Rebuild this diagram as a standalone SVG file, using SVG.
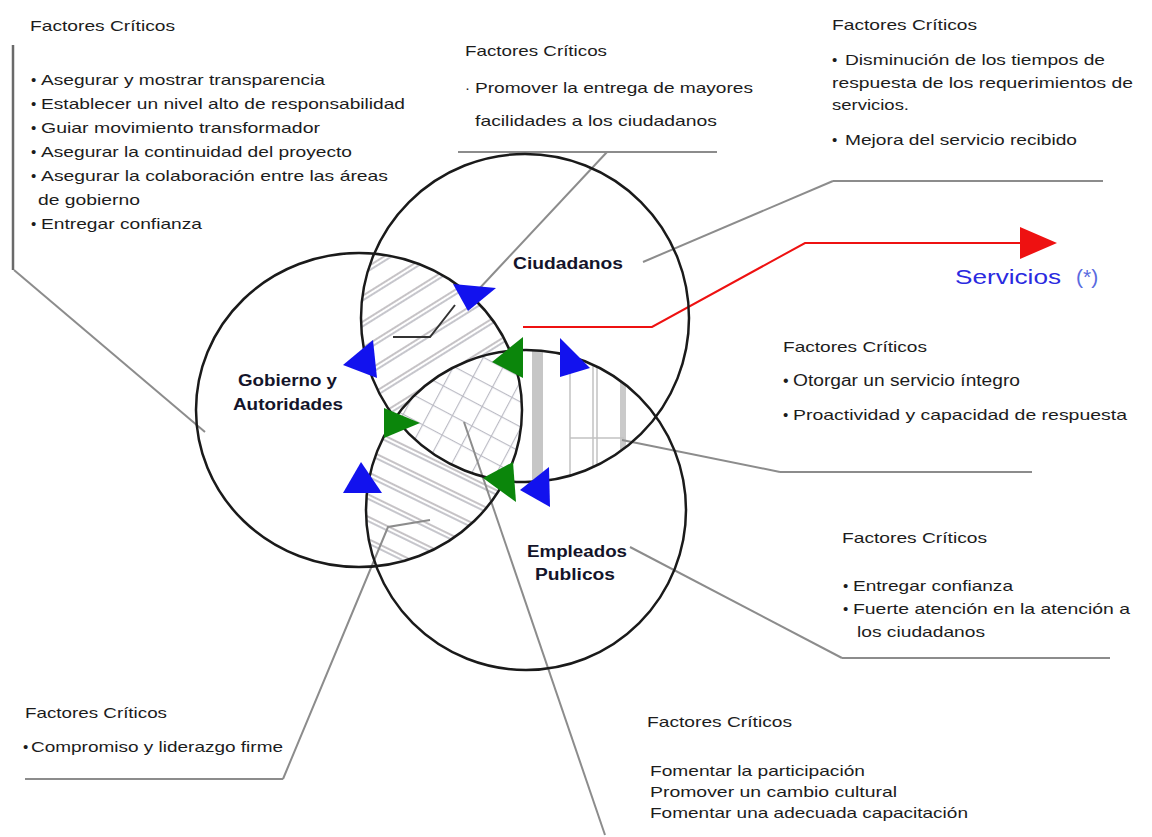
<svg xmlns="http://www.w3.org/2000/svg" width="1152" height="837" viewBox="0 0 1152 837">
<style>
.t{font-family:"Liberation Sans",Arial,sans-serif;font-size:15px;fill:#1c1c1c}
.big{font-size:16px}
.lbl{font-family:"Liberation Sans",Arial,sans-serif;font-weight:bold;font-size:16px;fill:#14142a}
.lead{stroke:#8c8c8c;stroke-width:2;fill:none}
.circ{fill:none;stroke:#1a1a1a;stroke-width:2.5}
.blue{fill:#1212ee}
.green{fill:#0b860b}
.red{stroke:#ee1111;stroke-width:2;fill:none}
</style>
<defs>
  <pattern id="p1" width="22" height="22" patternUnits="userSpaceOnUse" patternTransform="rotate(-32)">
    <line x1="0" y1="3" x2="22" y2="3" stroke="#c0bcc0" stroke-width="1.8"/>
    <line x1="0" y1="7" x2="22" y2="7" stroke="#c0c0c6" stroke-width="1.8"/>
  </pattern>
  <pattern id="p2" width="20" height="20" patternUnits="userSpaceOnUse" patternTransform="rotate(26)">
    <line x1="0" y1="3" x2="20" y2="3" stroke="#c0bcc0" stroke-width="1.8"/>
    <line x1="0" y1="7" x2="20" y2="7" stroke="#c0c0c6" stroke-width="1.8"/>
  </pattern>
  <pattern id="p3" width="22" height="22" patternUnits="userSpaceOnUse" patternTransform="rotate(28)">
    <line x1="0" y1="0.5" x2="22" y2="0.5" stroke="#bbbbc4" stroke-width="1.3"/>
    <line x1="0.5" y1="0" x2="0.5" y2="22" stroke="#bbbbc4" stroke-width="1.3"/>
  </pattern>
  <clipPath id="cC"><circle cx="525" cy="318" r="164"/></clipPath>
  <clipPath id="cG"><ellipse cx="359" cy="410" rx="163" ry="157"/></clipPath>
  <clipPath id="cE"><circle cx="526" cy="510" r="160"/></clipPath>
  <mask id="mNotE" maskUnits="userSpaceOnUse" x="0" y="0" width="1152" height="837">
    <rect width="1152" height="837" fill="#fff"/><circle cx="526" cy="510" r="160" fill="#000"/>
  </mask>
  <mask id="mNotC" maskUnits="userSpaceOnUse" x="0" y="0" width="1152" height="837">
    <rect width="1152" height="837" fill="#fff"/><circle cx="525" cy="318" r="164" fill="#000"/>
  </mask>
  <mask id="mNotG" maskUnits="userSpaceOnUse" x="0" y="0" width="1152" height="837">
    <rect width="1152" height="837" fill="#fff"/><ellipse cx="359" cy="410" rx="163" ry="157" fill="#000"/>
  </mask>
</defs>
<rect width="1152" height="837" fill="#fff"/>

<g id="hatching">
  <g clip-path="url(#cC)"><g clip-path="url(#cG)"><rect x="300" y="200" width="300" height="350" fill="url(#p1)" mask="url(#mNotE)"/></g></g>
  <g clip-path="url(#cG)"><g clip-path="url(#cE)"><rect x="300" y="300" width="300" height="300" fill="url(#p2)" mask="url(#mNotC)"/></g></g>
  <g clip-path="url(#cC)"><g clip-path="url(#cG)"><g clip-path="url(#cE)"><rect x="350" y="300" width="250" height="250" fill="url(#p3)"/></g></g></g>
  <g clip-path="url(#cC)"><g clip-path="url(#cE)"><g mask="url(#mNotG)">
    <rect x="532" y="340" width="11" height="150" fill="#c6c6c6"/>
    <line x1="570" y1="340" x2="570" y2="490" stroke="#c2c2c2" stroke-width="1.5"/>
    <line x1="593" y1="340" x2="593" y2="490" stroke="#c2c2c2" stroke-width="1.5"/>
    <line x1="597" y1="340" x2="597" y2="490" stroke="#c2c2c2" stroke-width="1.5"/>
    <rect x="620" y="340" width="6" height="150" fill="#cacaca"/>
    <line x1="570" y1="438" x2="624" y2="438" stroke="#c2c2c2" stroke-width="1.5"/>
  </g></g></g>
</g>

<g id="connectors">
  <line x1="13" y1="45" x2="13" y2="270" stroke="#6a6a6a" stroke-width="2.5"/>
  <line class="lead" x1="14" y1="270" x2="205" y2="432"/>
  <line class="lead" x1="458" y1="152" x2="717" y2="152"/>
  <line class="lead" x1="607" y1="152" x2="478" y2="290"/>
  <polyline points="455,305 430,337 393,337" fill="none" stroke="#333" stroke-width="2"/>
  <line class="lead" x1="833" y1="181" x2="1103" y2="181"/>
  <line class="lead" x1="833" y1="181" x2="643" y2="262"/>
  <line class="lead" x1="780" y1="472" x2="1032" y2="472"/>
  <line class="lead" x1="622" y1="440" x2="780" y2="472"/>
  <line class="lead" x1="842" y1="658" x2="1110" y2="658"/>
  <line class="lead" x1="630" y1="547" x2="842" y2="658"/>
  <line class="lead" x1="25" y1="779" x2="283" y2="779"/>
  <polyline class="lead" points="283,779 388,527 430,520"/>
  <line class="lead" x1="605" y1="835" x2="464" y2="422"/>
  <polyline class="red" points="523,327 652,327 805,243 1022,243"/>
  <polygon points="1020,227 1057,243 1020,259" fill="#ee1111"/>
</g>

<g id="node-ciudadanos">
  <circle class="circ" cx="525" cy="318" r="164"/>
  <text class="lbl" x="513" y="269" textLength="110" lengthAdjust="spacingAndGlyphs">Ciudadanos</text>
</g>
<g id="node-gobierno">
  <ellipse class="circ" cx="359" cy="410" rx="163" ry="157"/>
  <text class="lbl" x="238" y="386" textLength="99" lengthAdjust="spacingAndGlyphs">Gobierno y</text>
  <text class="lbl" x="233" y="410" textLength="110" lengthAdjust="spacingAndGlyphs">Autoridades</text>
</g>
<g id="node-empleados">
  <circle class="circ" cx="526" cy="510" r="160"/>
  <text class="lbl" x="527" y="557" textLength="100" lengthAdjust="spacingAndGlyphs">Empleados</text>
  <text class="lbl" x="535" y="580" textLength="80" lengthAdjust="spacingAndGlyphs">Publicos</text>
</g>

<g id="arrowheads">
  <polygon class="blue" points="453,284 496,288 468,311"/>
  <polygon class="blue" points="373,340 343,365 377,378"/>
  <polygon class="blue" points="361,462 343,493 382,493"/>
  <polygon class="blue" points="560,338 590,368 560,377"/>
  <polygon class="blue" points="549,467 520,490 550,507"/>
  <polygon class="green" points="523,337 492,362 523,378"/>
  <polygon class="green" points="384,408 420,423 384,438"/>
  <polygon class="green" points="513,462 483,478 516,502"/>
</g>

<g id="servicios">
  <text x="955" y="284" font-family="Liberation Sans, Arial, sans-serif" font-size="21" fill="#2a2ae0" textLength="106" lengthAdjust="spacingAndGlyphs">Servicios</text>
  <text x="1076" y="284" font-family="Liberation Sans, Arial, sans-serif" font-size="21" fill="#5a6ae0">(*)</text>
</g>

<g id="callout-gobierno">
  <text class="t" x="30" y="31" textLength="145" lengthAdjust="spacingAndGlyphs">Factores Críticos</text>
  <text class="t" x="31" y="85">•</text><text class="t" x="41" y="85" textLength="284" lengthAdjust="spacingAndGlyphs">Asegurar y mostrar transparencia</text>
  <text class="t" x="31" y="109">•</text><text class="t" x="41" y="109" textLength="364" lengthAdjust="spacingAndGlyphs">Establecer un nivel alto de responsabilidad</text>
  <text class="t" x="31" y="133">•</text><text class="t" x="41" y="133" textLength="279" lengthAdjust="spacingAndGlyphs">Guiar movimiento transformador</text>
  <text class="t" x="31" y="157">•</text><text class="t" x="41" y="157" textLength="311" lengthAdjust="spacingAndGlyphs">Asegurar la continuidad del proyecto</text>
  <text class="t" x="31" y="181">•</text><text class="t" x="41" y="181" textLength="347" lengthAdjust="spacingAndGlyphs">Asegurar la colaboración entre las áreas</text>
  <text class="t" x="38" y="205" textLength="102" lengthAdjust="spacingAndGlyphs">de gobierno</text>
  <text class="t" x="31" y="229">•</text><text class="t" x="41" y="229" textLength="161" lengthAdjust="spacingAndGlyphs">Entregar confianza</text>
</g>

<g id="callout-ciudadanos-1">
  <text class="t" x="465" y="56" textLength="142" lengthAdjust="spacingAndGlyphs">Factores Críticos</text>
  <text class="t" x="465" y="93">·</text><text class="t" x="475" y="93" textLength="278" lengthAdjust="spacingAndGlyphs">Promover la entrega de mayores</text>
  <text class="t" x="475" y="126" textLength="242" lengthAdjust="spacingAndGlyphs">facilidades a los ciudadanos</text>
</g>

<g id="callout-ciudadanos-2">
  <text class="t" x="832" y="30" textLength="145" lengthAdjust="spacingAndGlyphs">Factores Críticos</text>
  <text class="t" x="832" y="65">•</text><text class="t" x="845" y="65" textLength="260" lengthAdjust="spacingAndGlyphs">Disminución de los tiempos de</text>
  <text class="t" x="832" y="88" textLength="301" lengthAdjust="spacingAndGlyphs">respuesta de los requerimientos de</text>
  <text class="t" x="832" y="110" textLength="77" lengthAdjust="spacingAndGlyphs">servicios.</text>
  <text class="t" x="832" y="145">•</text><text class="t" x="845" y="145" textLength="232" lengthAdjust="spacingAndGlyphs">Mejora del servicio recibido</text>
</g>

<g id="callout-servicio">
  <text class="t" x="783" y="352" textLength="144" lengthAdjust="spacingAndGlyphs">Factores Críticos</text>
  <text class="t big" x="783" y="386">•</text><text class="t big" x="793" y="386" textLength="227" lengthAdjust="spacingAndGlyphs">Otorgar un servicio íntegro</text>
  <text class="t" x="783" y="420">•</text><text class="t" x="793" y="420" textLength="334" lengthAdjust="spacingAndGlyphs">Proactividad y capacidad de respuesta</text>
</g>

<g id="callout-empleados-1">
  <text class="t" x="842" y="543" textLength="145" lengthAdjust="spacingAndGlyphs">Factores Críticos</text>
  <text class="t" x="843" y="591">•</text><text class="t" x="853" y="591" textLength="160" lengthAdjust="spacingAndGlyphs">Entregar confianza</text>
  <text class="t" x="843" y="614">•</text><text class="t" x="853" y="614" textLength="277" lengthAdjust="spacingAndGlyphs">Fuerte atención en la atención a</text>
  <text class="t" x="857" y="637" textLength="128" lengthAdjust="spacingAndGlyphs">los ciudadanos</text>
</g>

<g id="callout-empleados-2">
  <text class="t" x="647" y="727" textLength="145" lengthAdjust="spacingAndGlyphs">Factores Críticos</text>
  <text class="t" x="650" y="776" textLength="215" lengthAdjust="spacingAndGlyphs">Fomentar la participación</text>
  <text class="t" x="650" y="797" textLength="247" lengthAdjust="spacingAndGlyphs">Promover un cambio cultural</text>
  <text class="t" x="650" y="818" textLength="318" lengthAdjust="spacingAndGlyphs">Fomentar una adecuada capacitación</text>
</g>

<g id="callout-gobierno-2">
  <text class="t" x="25" y="718" textLength="142" lengthAdjust="spacingAndGlyphs">Factores Críticos</text>
  <text class="t" x="23" y="752">•</text><text class="t" x="31" y="752" textLength="252" lengthAdjust="spacingAndGlyphs">Compromiso y liderazgo firme</text>
</g>
</svg>
